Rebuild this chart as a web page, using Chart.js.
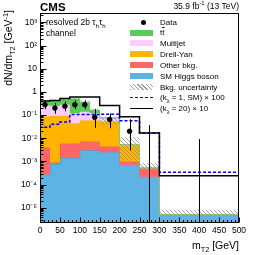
<!DOCTYPE html>
<html>
<head>
<meta charset="utf-8">
<script src="https://cdn.jsdelivr.net/npm/chart.js@4.4.1/dist/chart.umd.min.js"></script>
<style>
  body { margin: 0; background: #fff; }
  #wrap { position: relative; width: 266px; height: 255px; font-family: "Liberation Sans", Arial, sans-serif; color: #000; }
  #c { position: absolute; left: 0; top: 0; }
  .t { position: absolute; white-space: nowrap; line-height: 1; }
  .t sub, .t sup { font-size: 70%; line-height: 0; }
  .sym { position: absolute; left: 130px; width: 23px; }
  .box { height: 6px; }
  .lab { position: absolute; left: 160px; font-size: 8px; white-space: nowrap; line-height: 1; }
  .lab sub, .lab sup { font-size: 70%; line-height: 0; }
</style>
</head>
<body>
<div id="wrap">
  <canvas id="c" width="266" height="255"></canvas>

  <div class="t" style="left:40px; top:2px; font-size:11.5px; font-weight:bold;">CMS</div>
  <div class="t" style="right:27px; top:2px; font-size:8.5px;">35.9 fb<sup>-1</sup> (13 TeV)</div>
  <div class="t" style="left:46px; top:18px; font-size:8.5px;">resolved 2b &tau;<sub>h</sub>&tau;<sub>h</sub></div>
  <div class="t" style="left:46px; top:29px; font-size:8.5px;">channel</div>

  <div class="t" style="left:3px; top:105px; width:95px; text-align:right; font-size:10.5px; transform-origin:left top; transform:rotate(-90deg);">dN/dm<sub>T2</sub> [GeV<sup>-1</sup>]</div>
  <div class="t" style="right:27px; top:240px; font-size:10.5px;">m<sub>T2</sub> [GeV]</div>

  <!-- legend -->
  <div class="sym" style="top:22px; height:2px;"><div style="position:absolute; left:11px; top:-2px; width:5px; height:5px; border-radius:50%; background:#000;"></div></div>
  <div class="lab" style="top:19px;">Data</div>
  <div class="sym box" style="top:30px; background:#55cc55;"></div>
  <div class="lab" style="top:29px;">t<span style="text-decoration:overline;">t</span></div>
  <div class="sym box" style="top:40px; background:#ffccff;"></div>
  <div class="lab" style="top:40px;">Multijet</div>
  <div class="sym box" style="top:51px; background:#ffb400;"></div>
  <div class="lab" style="top:51px;">Drell-Yan</div>
  <div class="sym box" style="top:62px; background:#ff6666;"></div>
  <div class="lab" style="top:62px;">Other bkg.</div>
  <div class="sym box" style="top:73px; background:#5db4e4;"></div>
  <div class="lab" style="top:73px;">SM Higgs boson</div>
  <div class="sym box" style="top:84px; background:repeating-linear-gradient(45deg, #999 0 1px, transparent 1px 3px);"></div>
  <div class="lab" style="top:84px;">Bkg. uncertainty</div>
  <div class="sym" style="top:97px; border-top:1.5px dashed #0000ff;"></div>
  <div class="lab" style="top:94px;">(k<sub>&lambda;</sub> = 1, SM) &times; 100</div>
  <div class="sym" style="top:108px; border-top:1.5px solid #000;"></div>
  <div class="lab" style="top:105px;">(k<sub>&lambda;</sub> = 20) &times; 10</div>
</div>

<script>
// bins in m_T2 [GeV]
const binEdges = [0, 25, 50, 75, 100, 125, 150, 200, 250, 300, 500];

// backgrounds, dN/dm per component (stacked bottom -> top)
const smHiggs  = [2.7e-4, 7.7e-4, 1.4e-3, 1.4e-3, 3.0e-3, 3.0e-3, 2.5e-3, 7.2e-4, 2.2e-4, 5e-6];
const otherBkg = [3.7e-3, 1.3e-4, 4.6e-3, 4.6e-3, 4.3e-3, 4.3e-3, 1.9e-3, 2.8e-4, 3.0e-4, 0];
const drellYan = [0.086, 0.093, 0.088, 0.039, 0.053, 0.053, 0.048, 4.2e-3, 0, 0];
const multijet = [0.17, 0.156, 0.186, 0.075, 0.08, 0.06, 0.02, 0, 0, 0];
const ttbar    = [0.12, 0.16, 0.18, 0.38, 0.22, 0.04, 0.004, 1e-4, 0, 0];

// hatched band
const bkgUncLow  = [0.33, 0.36, 0.40, 0.44, 0.31, 0.13, 0.038, 1.1e-3, 4.5e-4, 4.5e-6];
const bkgUncHigh = [0.44, 0.47, 0.53, 0.57, 0.42, 0.19, 0.08, 0.011, 8.6e-4, 8.2e-6];

// signal lines
const smX100  = [0.030, 0.040, 0.050, 0.105, 0.105, 0.105, 0.11, 0.057, 0.017, 3.4e-4];
const kl20X10 = [0.41, 0.43, 0.52, 0.60, 0.60, 0.60, 0.26, 0.085, 0.017, 2.4e-4];

// data
const dataVals  = [0.28, 0.20, 0.24, 0.28, 0.28, 0.08, 0.065, 0.02, 0, 0];
const dataErrLo = [0.10, 0.086, 0.095, 0.10, 0.10, 0.052, 0.038, 0.017, 0, 0];
const dataErrHi = [0.15, 0.135, 0.143, 0.15, 0.15, 0.106, 0.053, 0.046, 0.037, 0.0092];

// axes
const xTicks = [0, 50, 100, 150, 200, 250, 300, 350, 400, 450, 500];
const yTicks = [1e-5, 1e-4, 1e-3, 1e-2, 1e-1, 1, 10, 100, 1000];
const yTickLabels = ['10\u207B\u2075', '10\u207B\u2074', '10\u207B\u00B3', '10\u207B\u00B2', '10\u207B\u00B9', '1', '10', '10\u00B2', '10\u00B3'];
const yMin = 2.2e-6, yMax = 2550;

// --- helpers ---
const nBins = binEdges.length - 1;
// points at the lower bin edges, value held until the next edge (stepped: 'before')
function steps(vals, fromBottom) {
    const pts = [];
    if (fromBottom) pts.push({ x: binEdges[0], y: yMin });
    vals.forEach((v, i) => pts.push({ x: binEdges[i], y: v }));
    pts.push({ x: binEdges[nBins], y: vals[nBins - 1] });
    return pts;
}
function addArr(a, b) { return a.map((v, i) => v + b[i]); }

const cumHiggs = smHiggs.slice();
const cumOther = addArr(cumHiggs, otherBkg);
const cumDY = addArr(cumOther, drellYan);
const cumMJ = addArr(cumDY, multijet);
const cumTT = addArr(cumMJ, ttbar);

// hatch pattern for the uncertainty band
function makeHatch(ctx) {
    const p = document.createElement('canvas');
    p.width = 4; p.height = 4;
    const g = p.getContext('2d');
    g.strokeStyle = '#8a8a8a';
    g.lineWidth = 0.8;
    g.beginPath();
    g.moveTo(-1, -1); g.lineTo(5, 5);
    g.moveTo(-1, 3); g.lineTo(1, 5);
    g.moveTo(3, -1); g.lineTo(5, 1);
    g.stroke();
    return ctx.createPattern(p, 'repeat');
}

function histLayer(label, vals, fill, color, border, order) {
    return {
        label: label,
        data: steps(vals),
        stepped: 'before',
        fill: fill,
        backgroundColor: color,
        borderColor: border,
        borderWidth: 0.8,
        pointRadius: 0,
        order: order
    };
}

// --- plugins ---
const errorBars = {
    id: 'errorBars',
    afterDatasetsDraw(chart) {
        const { ctx, chartArea } = chart;
        const x = chart.scales.x, y = chart.scales.y;
        ctx.save();
        ctx.beginPath();
        ctx.rect(chartArea.left, chartArea.top, chartArea.right - chartArea.left, chartArea.bottom - chartArea.top);
        ctx.clip();
        ctx.strokeStyle = '#000';
        ctx.lineWidth = 1;
        dataVals.forEach((v, i) => {
            const cx = Math.round(x.getPixelForValue((binEdges[i] + binEdges[i + 1]) / 2)) + 0.5;
            const lo = v - dataErrLo[i];
            const yLo = lo > 0 ? y.getPixelForValue(lo) : chartArea.bottom;
            const yHi = y.getPixelForValue(v + dataErrHi[i]);
            ctx.beginPath();
            ctx.moveTo(cx, yLo);
            ctx.lineTo(cx, yHi);
            ctx.stroke();
        });
        ctx.restore();
    }
};

const frameTicks = {
    id: 'frameTicks',
    afterDraw(chart) {
        const { ctx, chartArea } = chart;
        const x = chart.scales.x, y = chart.scales.y;
        const L = Math.round(chartArea.left) + 0.5, R = Math.round(chartArea.right) - 0.5;
        const T = Math.round(chartArea.top) + 0.5, B = Math.round(chartArea.bottom) - 0.5;
        ctx.save();
        ctx.strokeStyle = '#000';
        ctx.lineWidth = 1;
        ctx.beginPath();
        // x ticks along bottom
        for (let v = 0; v <= 500; v += 10) {
            const px = Math.round(x.getPixelForValue(v)) + 0.5;
            const len = v % 50 === 0 ? 5 : 2.5;
            ctx.moveTo(px, B); ctx.lineTo(px, B - len);
        }
        // y ticks along left
        for (let e = -6; e <= 3; e++) {
            for (let m = 1; m <= 9; m++) {
                const v = m * Math.pow(10, e);
                if (v < yMin || v > yMax) continue;
                const py = Math.round(y.getPixelForValue(v)) + 0.5;
                const len = m === 1 ? 6 : 3;
                ctx.moveTo(L, py); ctx.lineTo(L + len, py);
            }
        }
        ctx.stroke();
        ctx.strokeRect(L, T, R - L, B - T);
        ctx.restore();
    }
};

// --- chart ---
const ctx = document.getElementById('c').getContext('2d');
const hatch = makeHatch(ctx);

new Chart(ctx, {
    type: 'line',
    data: {
        datasets: [
            histLayer('SM Higgs boson', cumHiggs, 'start', '#5db4e4', '#3f8fc0', 10),
            histLayer('Other bkg.', cumOther, '-1', '#ff6666', '#e05050', 9),
            histLayer('Drell-Yan', cumDY, '-1', '#ffb400', '#ffb400', 8),
            histLayer('Multijet', cumMJ, '-1', '#ffccff', '#ffccff', 7),
            histLayer('ttbar', cumTT, '-1', '#55cc55', '#55cc55', 6),
            {
                label: 'unc low', data: steps(bkgUncLow), stepped: 'before', fill: false,
                borderWidth: 0, borderColor: 'rgba(0,0,0,0)', pointRadius: 0, order: 5
            },
            {
                label: 'Bkg. uncertainty', data: steps(bkgUncHigh), stepped: 'before', fill: '-1',
                backgroundColor: hatch, borderWidth: 0, borderColor: 'rgba(0,0,0,0)', pointRadius: 0, order: 5
            },
            {
                label: 'SM x100', data: steps(smX100, true), stepped: 'before', fill: false,
                borderColor: '#0000ff', borderWidth: 1.5, borderDash: [3, 2], pointRadius: 0, order: 4
            },
            {
                label: 'kl20 x10', data: steps(kl20X10, true), stepped: 'before', fill: false,
                borderColor: '#000', borderWidth: 1.5, pointRadius: 0, order: 3
            },
            {
                type: 'scatter', label: 'Data',
                data: dataVals.map((v, i) => ({ x: (binEdges[i] + binEdges[i + 1]) / 2, y: v > 0 ? v : null })),
                backgroundColor: '#000', borderColor: '#000', pointRadius: 2.3, order: 1
            }
        ]
    },
    options: {
        responsive: false,
        animation: false,
        events: [],
        layout: { padding: { top: 13, right: 27, left: 0, bottom: 0 } },
        plugins: { legend: { display: false }, tooltip: { enabled: false } },
        scales: {
            x: {
                type: 'linear', min: 0, max: 500,
                afterBuildTicks: s => { s.ticks = xTicks.map(v => ({ value: v })); },
                afterFit: s => { s.height = 32; },
                grid: { display: false, drawTicks: false },
                border: { display: false },
                ticks: { autoSkip: false, maxRotation: 0, padding: 3, color: '#000', font: { family: 'Liberation Sans', size: 8.5 } }
            },
            y: {
                type: 'logarithmic', min: yMin, max: yMax,
                afterBuildTicks: s => { s.ticks = yTicks.map(v => ({ value: v })); },
                afterFit: s => { s.width = 40; },
                grid: { display: false, drawTicks: false },
                border: { display: false },
                ticks: {
                    autoSkip: false, padding: 3, color: '#000', font: { family: 'Liberation Sans', size: 8.5 },
                    callback: (v) => yTickLabels[yTicks.findIndex(t => Math.abs(Math.log10(t) - Math.log10(v)) < 1e-6)]
                }
            }
        }
    },
    plugins: [errorBars, frameTicks]
});
</script>
</body>
</html>
